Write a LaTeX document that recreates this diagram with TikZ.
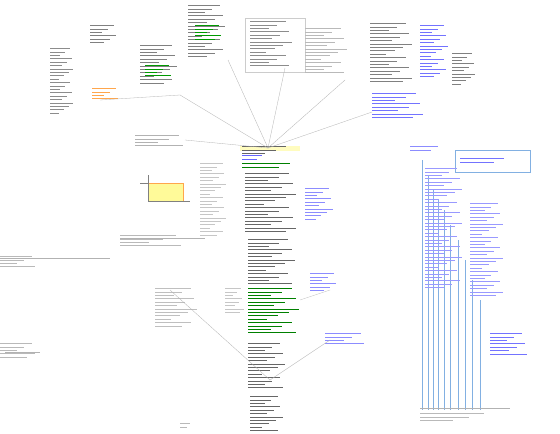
\documentclass[tikz,border=0pt]{standalone}
\begin{document}
\begin{tikzpicture}[x=1pt,y=-1pt,
  conn/.style={gray!60,line width=0.3pt},
  bconn/.style={cyan!60!blue!50,line width=0.4pt},
  txt/.style={line width=0.4pt}]
\useasboundingbox (0,0) rectangle (560,434);
\fill[white] (0,0) rectangle (560,434);
\newcommand{\tblk}[5]{\foreach \i in {1,...,#3}{\pgfmathsetmacro{\w}{#4*(0.35+0.65*mod(\i*37,10)/10)}\draw[txt,#5] (#1,#2+\i*3.4) -- ++(\w,0);}}
\coordinate (hub) at (268,148);
\fill[yellow!25] (240,146) rectangle (300,151);
\tblk{242}{143}{3}{55}{black!60}
\tblk{242}{152}{2}{25}{blue!60}
\tblk{242}{160}{2}{60}{green!50!black}
\coordinate (p1) at (180,95);  \tblk{140}{42}{12}{40}{black!50}\tblk{145}{62}{4}{30}{green!60!black}
\coordinate (p2) at (228,60);  \tblk{188}{2}{16}{40}{black!50}\tblk{195}{22}{5}{30}{green!60!black}
\coordinate (p3) at (285,68);  \tblk{250}{18}{14}{45}{black!45}\draw[gray!40] (245,18) rectangle (305,72);
\coordinate (p4) at (345,80);  \tblk{305}{25}{14}{45}{gray!55}
\coordinate (p5) at (372,112); \tblk{370}{20}{18}{45}{black!50}\tblk{372}{90}{8}{55}{blue!55}
\coordinate (p6) at (185,140); \tblk{135}{132}{4}{55}{gray!60}
\coordinate (p7) at (100,100); \tblk{90}{22}{6}{30}{black!50}\tblk{92}{85}{4}{30}{orange!70}
\tblk{50}{45}{20}{25}{black!45}
\tblk{420}{22}{16}{30}{blue!55}\tblk{452}{50}{10}{25}{black!50}
\foreach \p in {p1,p2,p3,p4,p5,p6} \draw[conn] (hub) -- (\p);
\draw[conn] (p7) -- (p1);
\tblk{245}{170}{18}{55}{black!60}
\tblk{248}{236}{14}{50}{black!60}
\tblk{248}{285}{14}{55}{green!50!black}
\tblk{248}{340}{14}{40}{black!60}
\tblk{250}{393}{11}{35}{black!60}
\tblk{200}{160}{22}{28}{gray!45}
\tblk{305}{185}{10}{30}{blue!45}
\tblk{310}{270}{6}{30}{blue!45}
\tblk{325}{330}{4}{45}{blue!45}
\tblk{155}{285}{12}{45}{gray!50}
\tblk{225}{285}{8}{20}{gray!45}
\fill[yellow!40,draw=orange!70] (148,183) rectangle (183,201);
\draw[gray] (140,183) -- (148,183) (148,175) -- (148,201) -- (190,201);
\tblk{120}{232}{4}{70}{gray!55}\draw[conn] (120,238) -- (205,238);
\tblk{0}{253}{4}{40}{gray!55}\draw[conn] (0,258) -- (110,258);
\tblk{0}{340}{5}{40}{gray!55}\draw[conn] (5,352) -- (40,352);
\tblk{180}{420}{2}{12}{gray!55}
\coordinate (c1) at (270,380);\coordinate (c2) at (330,340);
\draw[conn] (c1) -- (170,290); \draw[conn] (c1) -- (c2); \draw[conn] (300,300) -- (330,290);
\draw[bconn] (455,150) rectangle (530,172);
\tblk{460}{155}{2}{55}{blue!55}
\tblk{410}{143}{2}{35}{blue!45}
\foreach \x/\t in {422/160,428/175,433/190,438/200,444/210,450/225,458/240,465/260,472/280,480/300}
  \draw[bconn] (\x,\t) -- (\x,410);
\tblk{425}{165}{36}{40}{blue!40}
\tblk{470}{200}{28}{35}{blue!40}
\tblk{490}{330}{7}{40}{blue!55}
\draw[conn] (420,408) -- (510,408);
\tblk{420}{410}{3}{80}{gray!55}
\end{tikzpicture}
\end{document}
